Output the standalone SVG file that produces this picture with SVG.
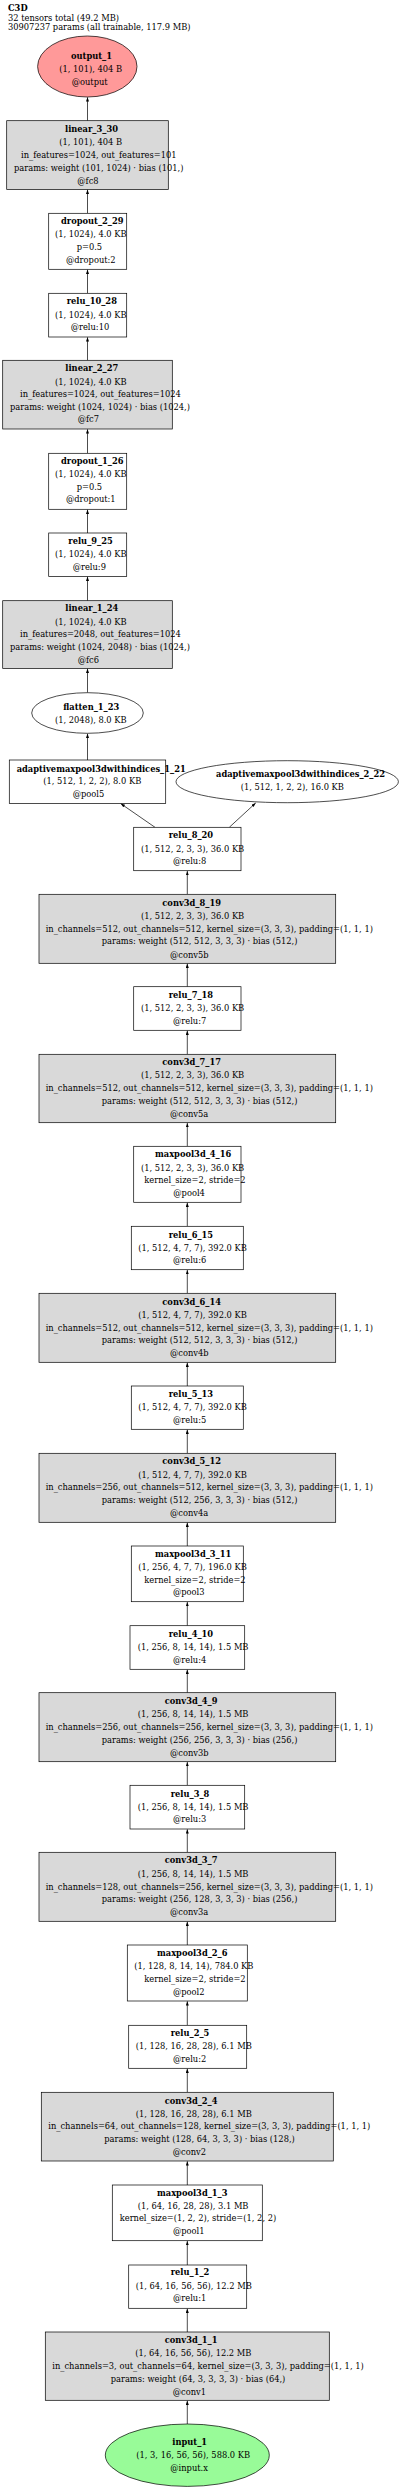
<svg xmlns="http://www.w3.org/2000/svg" width="400" height="2489" viewBox="0 0 400 2489">
<style>
text{font-family:"DejaVu Serif",serif;font-size:8.3px;fill:#000}
.b{font-weight:bold}
.box{fill:#fff;stroke:#000;stroke-width:0.7}
.g{fill:#d9d9d9;stroke:#000;stroke-width:0.7}
.e{fill:#fff;stroke:#000;stroke-width:0.7}
.edge{stroke:#000;stroke-width:0.7;fill:none;marker-end:url(#ah)}
</style>
<defs>
<marker id="ah" viewBox="0 0 10 7" refX="10" refY="3.5" markerWidth="4.4" markerHeight="3" markerUnits="userSpaceOnUse" orient="auto">
<path d="M0,0 L10,3.5 L0,7 z" fill="#000"/>
</marker>
</defs>
<rect width="400" height="2489" fill="#fff"/>
<g id="header">
<text class="b" x="8" y="11">C3D</text>
<text x="8" y="20.5">32 tensors total (49.2 MB)</text>
<text x="8" y="30">30907237 params (all trainable, 117.9 MB)</text>
</g>
<g id="connectors">
<line class="edge" x1="87.5" y1="120.7" x2="87.5" y2="97.3"/>
<line class="edge" x1="87.5" y1="213.3" x2="87.5" y2="189.6"/>
<line class="edge" x1="87.5" y1="293.3" x2="87.5" y2="269.6"/>
<line class="edge" x1="87.5" y1="360.3" x2="87.5" y2="337.3"/>
<line class="edge" x1="87.5" y1="453.3" x2="87.5" y2="429.3"/>
<line class="edge" x1="87.5" y1="533" x2="87.5" y2="509.6"/>
<line class="edge" x1="87.5" y1="600.7" x2="87.5" y2="576.6"/>
<line class="edge" x1="87.5" y1="692.7" x2="87.5" y2="668.6"/>
<line class="edge" x1="87.5" y1="760" x2="87.5" y2="733.6"/>
<line class="edge" x1="155" y1="827.3" x2="120.7" y2="803.6"/>
<line class="edge" x1="229.3" y1="827.3" x2="255.7" y2="803"/>
<line class="edge" x1="187.3" y1="894.3" x2="187.3" y2="871"/>
<line class="edge" x1="187.3" y1="986.7" x2="187.3" y2="963.6"/>
<line class="edge" x1="187.3" y1="1054.3" x2="187.3" y2="1030.6"/>
<line class="edge" x1="187.3" y1="1146.3" x2="187.3" y2="1123"/>
<line class="edge" x1="187.3" y1="1226.3" x2="187.3" y2="1202.6"/>
<line class="edge" x1="187.3" y1="1293.3" x2="187.3" y2="1270"/>
<line class="edge" x1="187.3" y1="1386" x2="187.3" y2="1362.6"/>
<line class="edge" x1="187.3" y1="1453.3" x2="187.3" y2="1429.6"/>
<line class="edge" x1="187.3" y1="1546" x2="187.3" y2="1522.6"/>
<line class="edge" x1="187.3" y1="1625.7" x2="187.3" y2="1602"/>
<line class="edge" x1="187.3" y1="1692.7" x2="187.3" y2="1669.6"/>
<line class="edge" x1="187.3" y1="1785.3" x2="187.3" y2="1762"/>
<line class="edge" x1="187.3" y1="1852.3" x2="187.3" y2="1829.3"/>
<line class="edge" x1="187.3" y1="1945" x2="187.3" y2="1921.6"/>
<line class="edge" x1="187.3" y1="2025.3" x2="187.3" y2="2001.3"/>
<line class="edge" x1="187.3" y1="2092.3" x2="187.3" y2="2068.6"/>
<line class="edge" x1="187.3" y1="2185" x2="187.3" y2="2161.3"/>
<line class="edge" x1="187.3" y1="2265" x2="187.3" y2="2241"/>
<line class="edge" x1="187.3" y1="2332" x2="187.3" y2="2308.6"/>
<line class="edge" x1="187.3" y1="2424" x2="187.3" y2="2400.6"/>
</g>
<g id="output_1">
<ellipse cx="87.3" cy="66.5" rx="49.7" ry="30.5" fill="#ff9999" stroke="#000" stroke-width="0.7"/>
<text class="b" x="71" y="58.5">output_1</text>
<text x="59.3" y="72">(1, 101), 404 B</text>
<text x="71.7" y="85">@output</text>
</g>
<g id="linear_3_30">
<rect class="g" x="6.7" y="120.7" width="161.6" height="68.7"/>
<text class="b" x="65" y="131.5">linear_3_30</text>
<text x="59.3" y="145">(1, 101), 404 B</text>
<text x="21" y="158">in_features=1024, out_features=101</text>
<text x="14" y="170.5">params: weight (101, 1024) · bias (101,)</text>
<text x="77.3" y="183.5">@fc8</text>
</g>
<g id="dropout_2_29">
<rect class="box" x="48.7" y="213.3" width="78" height="56"/>
<text class="b" x="61" y="224">dropout_2_29</text>
<text x="55" y="237">(1, 1024), 4.0 KB</text>
<text x="76.7" y="250">p=0.5</text>
<text x="66" y="262.5">@dropout:2</text>
</g>
<g id="relu_10_28">
<rect class="box" x="48.7" y="293.3" width="78" height="43.7"/>
<text class="b" x="66.7" y="304">relu_10_28</text>
<text x="55" y="317.5">(1, 1024), 4.0 KB</text>
<text x="70.7" y="330">@relu:10</text>
</g>
<g id="linear_2_27">
<rect class="g" x="2.7" y="360.3" width="169.6" height="68.7"/>
<text class="b" x="65.3" y="371">linear_2_27</text>
<text x="55" y="384.5">(1, 1024), 4.0 KB</text>
<text x="20" y="397">in_features=1024, out_features=1024</text>
<text x="10" y="409.5">params: weight (1024, 1024) · bias (1024,)</text>
<text x="77.7" y="422">@fc7</text>
</g>
<g id="dropout_1_26">
<rect class="box" x="48.7" y="453.3" width="78" height="56"/>
<text class="b" x="61" y="463.5">dropout_1_26</text>
<text x="55" y="476.5">(1, 1024), 4.0 KB</text>
<text x="76.7" y="489.5">p=0.5</text>
<text x="66" y="502">@dropout:1</text>
</g>
<g id="relu_9_25">
<rect class="box" x="48.7" y="533" width="78" height="43.4"/>
<text class="b" x="68.3" y="543.5">relu_9_25</text>
<text x="55" y="557">(1, 1024), 4.0 KB</text>
<text x="72.7" y="569.5">@relu:9</text>
</g>
<g id="linear_1_24">
<rect class="g" x="2.7" y="600.7" width="169.6" height="67.7"/>
<text class="b" x="65.3" y="611">linear_1_24</text>
<text x="55" y="624.5">(1, 1024), 4.0 KB</text>
<text x="20" y="637">in_features=2048, out_features=1024</text>
<text x="10" y="649.5">params: weight (1024, 2048) · bias (1024,)</text>
<text x="77.7" y="662.5">@fc6</text>
</g>
<g id="flatten_1_23">
<ellipse class="e" cx="87.5" cy="713" rx="55.8" ry="20.3"/>
<text class="b" x="63.3" y="709.5">flatten_1_23</text>
<text x="55" y="723">(1, 2048), 8.0 KB</text>
</g>
<g id="adaptivemaxpool3dwithindices_1_21">
<rect class="box" x="9.3" y="760" width="156.4" height="43.4"/>
<text class="b" x="16.7" y="771.5">adaptivemaxpool3dwithindices_1_21</text>
<text x="43.3" y="784">(1, 512, 1, 2, 2), 8.0 KB</text>
<text x="72.7" y="797">@pool5</text>
</g>
<g id="adaptivemaxpool3dwithindices_2_22">
<ellipse class="e" cx="287.2" cy="781.7" rx="111.2" ry="21"/>
<text class="b" x="216" y="777">adaptivemaxpool3dwithindices_2_22</text>
<text x="240.7" y="790">(1, 512, 1, 2, 2), 16.0 KB</text>
</g>
<g id="relu_8_20">
<rect class="box" x="133.7" y="827.3" width="107.3" height="43.4"/>
<text class="b" x="168.7" y="838">relu_8_20</text>
<text x="141" y="851.5">(1, 512, 2, 3, 3), 36.0 KB</text>
<text x="173" y="864">@relu:8</text>
</g>
<g id="conv3d_8_19">
<rect class="g" x="39" y="894.3" width="296.7" height="69"/>
<text class="b" x="162.3" y="905.5">conv3d_8_19</text>
<text x="141" y="918.5">(1, 512, 2, 3, 3), 36.0 KB</text>
<text x="45.7" y="931.5">in_channels=512, out_channels=512, kernel_size=(3, 3, 3), padding=(1, 1, 1)</text>
<text x="101.7" y="944">params: weight (512, 512, 3, 3, 3) · bias (512,)</text>
<text x="170" y="957.5">@conv5b</text>
</g>
<g id="relu_7_18">
<rect class="box" x="133.7" y="986.7" width="107.3" height="43.6"/>
<text class="b" x="168.7" y="997.5">relu_7_18</text>
<text x="141" y="1011">(1, 512, 2, 3, 3), 36.0 KB</text>
<text x="173" y="1024">@relu:7</text>
</g>
<g id="conv3d_7_17">
<rect class="g" x="39" y="1054.3" width="296.7" height="68.4"/>
<text class="b" x="162.3" y="1065">conv3d_7_17</text>
<text x="141" y="1078">(1, 512, 2, 3, 3), 36.0 KB</text>
<text x="45.7" y="1091">in_channels=512, out_channels=512, kernel_size=(3, 3, 3), padding=(1, 1, 1)</text>
<text x="101.7" y="1103.5">params: weight (512, 512, 3, 3, 3) · bias (512,)</text>
<text x="170" y="1116.5">@conv5a</text>
</g>
<g id="maxpool3d_4_16">
<rect class="box" x="133.7" y="1146.3" width="107.3" height="56"/>
<text class="b" x="155" y="1157">maxpool3d_4_16</text>
<text x="141" y="1170.5">(1, 512, 2, 3, 3), 36.0 KB</text>
<text x="144.3" y="1183">kernel_size=2, stride=2</text>
<text x="173.3" y="1195.5">@pool4</text>
</g>
<g id="relu_6_15">
<rect class="box" x="131.3" y="1226.3" width="112" height="43.4"/>
<text class="b" x="168.7" y="1237.5">relu_6_15</text>
<text x="138.3" y="1250.5">(1, 512, 4, 7, 7), 392.0 KB</text>
<text x="173" y="1263">@relu:6</text>
</g>
<g id="conv3d_6_14">
<rect class="g" x="39" y="1293.3" width="296.7" height="69"/>
<text class="b" x="162.3" y="1304.5">conv3d_6_14</text>
<text x="138.3" y="1318">(1, 512, 4, 7, 7), 392.0 KB</text>
<text x="45.7" y="1330.5">in_channels=512, out_channels=512, kernel_size=(3, 3, 3), padding=(1, 1, 1)</text>
<text x="101.7" y="1343">params: weight (512, 512, 3, 3, 3) · bias (512,)</text>
<text x="170" y="1356">@conv4b</text>
</g>
<g id="relu_5_13">
<rect class="box" x="131.3" y="1386" width="112" height="43.3"/>
<text class="b" x="168.7" y="1397">relu_5_13</text>
<text x="138.3" y="1410">(1, 512, 4, 7, 7), 392.0 KB</text>
<text x="173" y="1423">@relu:5</text>
</g>
<g id="conv3d_5_12">
<rect class="g" x="39" y="1453.3" width="296.7" height="69"/>
<text class="b" x="162.3" y="1464">conv3d_5_12</text>
<text x="138.3" y="1477.5">(1, 512, 4, 7, 7), 392.0 KB</text>
<text x="45.7" y="1490">in_channels=256, out_channels=512, kernel_size=(3, 3, 3), padding=(1, 1, 1)</text>
<text x="101.7" y="1503">params: weight (512, 256, 3, 3, 3) · bias (512,)</text>
<text x="170" y="1516">@conv4a</text>
</g>
<g id="maxpool3d_3_11">
<rect class="box" x="131.3" y="1546" width="112" height="55.7"/>
<text class="b" x="155" y="1556.5">maxpool3d_3_11</text>
<text x="138.3" y="1570">(1, 256, 4, 7, 7), 196.0 KB</text>
<text x="144.3" y="1583">kernel_size=2, stride=2</text>
<text x="173" y="1595">@pool3</text>
</g>
<g id="relu_4_10">
<rect class="box" x="130" y="1625.7" width="114.7" height="43.6"/>
<text class="b" x="168.7" y="1636.5">relu_4_10</text>
<text x="137.7" y="1649.5">(1, 256, 8, 14, 14), 1.5 MB</text>
<text x="173" y="1662.5">@relu:4</text>
</g>
<g id="conv3d_4_9">
<rect class="g" x="39" y="1692.7" width="296.7" height="69"/>
<text class="b" x="164.7" y="1704">conv3d_4_9</text>
<text x="137.7" y="1717">(1, 256, 8, 14, 14), 1.5 MB</text>
<text x="45.7" y="1730">in_channels=256, out_channels=256, kernel_size=(3, 3, 3), padding=(1, 1, 1)</text>
<text x="101.7" y="1742.5">params: weight (256, 256, 3, 3, 3) · bias (256,)</text>
<text x="170" y="1755.5">@conv3b</text>
</g>
<g id="relu_3_8">
<rect class="box" x="130" y="1785.3" width="114.7" height="43.7"/>
<text class="b" x="170.7" y="1796.5">relu_3_8</text>
<text x="137.7" y="1809.5">(1, 256, 8, 14, 14), 1.5 MB</text>
<text x="173" y="1822">@relu:3</text>
</g>
<g id="conv3d_3_7">
<rect class="g" x="39" y="1852.3" width="296.7" height="69"/>
<text class="b" x="164.7" y="1863">conv3d_3_7</text>
<text x="137.7" y="1876.5">(1, 256, 8, 14, 14), 1.5 MB</text>
<text x="45.7" y="1889.5">in_channels=128, out_channels=256, kernel_size=(3, 3, 3), padding=(1, 1, 1)</text>
<text x="101.7" y="1902">params: weight (256, 128, 3, 3, 3) · bias (256,)</text>
<text x="170" y="1915">@conv3a</text>
</g>
<g id="maxpool3d_2_6">
<rect class="box" x="127.3" y="1945" width="120" height="56"/>
<text class="b" x="157" y="1956">maxpool3d_2_6</text>
<text x="134.3" y="1969">(1, 128, 8, 14, 14), 784.0 KB</text>
<text x="144.3" y="1982">kernel_size=2, stride=2</text>
<text x="173" y="1994.5">@pool2</text>
</g>
<g id="relu_2_5">
<rect class="box" x="128.7" y="2025.3" width="118" height="43"/>
<text class="b" x="170.7" y="2036">relu_2_5</text>
<text x="135.7" y="2049">(1, 128, 16, 28, 28), 6.1 MB</text>
<text x="173" y="2062">@relu:2</text>
</g>
<g id="conv3d_2_4">
<rect class="g" x="41.3" y="2092.3" width="292" height="68.7"/>
<text class="b" x="164.7" y="2103.5">conv3d_2_4</text>
<text x="135.7" y="2116.5">(1, 128, 16, 28, 28), 6.1 MB</text>
<text x="48.3" y="2129">in_channels=64, out_channels=128, kernel_size=(3, 3, 3), padding=(1, 1, 1)</text>
<text x="104.3" y="2142">params: weight (128, 64, 3, 3, 3) · bias (128,)</text>
<text x="172.7" y="2154.5">@conv2</text>
</g>
<g id="maxpool3d_1_3">
<rect class="box" x="112.3" y="2185" width="150" height="55.7"/>
<text class="b" x="157" y="2195.5">maxpool3d_1_3</text>
<text x="137.7" y="2208.5">(1, 64, 16, 28, 28), 3.1 MB</text>
<text x="119.7" y="2221">kernel_size=(1, 2, 2), stride=(1, 2, 2)</text>
<text x="173" y="2234">@pool1</text>
</g>
<g id="relu_1_2">
<rect class="box" x="128.7" y="2265" width="118" height="43.3"/>
<text class="b" x="170.7" y="2275">relu_1_2</text>
<text x="135.7" y="2288.5">(1, 64, 16, 56, 56), 12.2 MB</text>
<text x="173" y="2301">@relu:1</text>
</g>
<g id="conv3d_1_1">
<rect class="g" x="45.3" y="2332" width="284" height="68.3"/>
<text class="b" x="164.7" y="2343">conv3d_1_1</text>
<text x="135.3" y="2356">(1, 64, 16, 56, 56), 12.2 MB</text>
<text x="52.3" y="2369">in_channels=3, out_channels=64, kernel_size=(3, 3, 3), padding=(1, 1, 1)</text>
<text x="110.7" y="2381.5">params: weight (64, 3, 3, 3, 3) · bias (64,)</text>
<text x="172.7" y="2394.5">@conv1</text>
</g>
<g id="input_1">
<ellipse cx="187.3" cy="2455.2" rx="82" ry="31.2" fill="#98fb98" stroke="#000" stroke-width="0.7"/>
<text class="b" x="172.3" y="2444.5">input_1</text>
<text x="136.3" y="2458">(1, 3, 16, 56, 56), 588.0 KB</text>
<text x="170.3" y="2470.5">@input.x</text>
</g>
</svg>
